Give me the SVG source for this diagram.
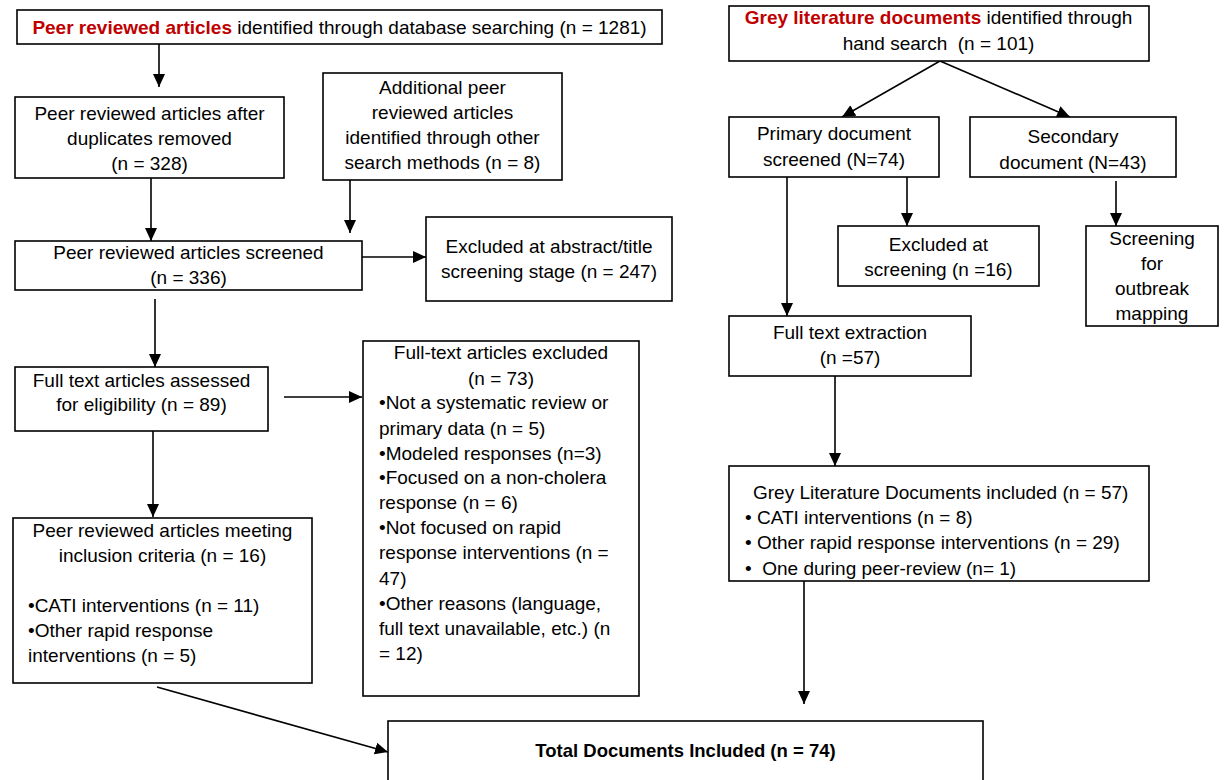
<svg xmlns="http://www.w3.org/2000/svg" width="1230" height="780" viewBox="0 0 1230 780">
<style>
.b{fill:#fff;stroke:#000;stroke-width:1.6}
.t{font-family:"Liberation Sans",Arial,sans-serif;font-size:19px;fill:#000}
.m{text-anchor:middle}
.r{fill:#c00000;font-weight:bold}
.bold{font-weight:bold;font-size:18.5px}
.c{stroke:#000;stroke-width:1.6;fill:none;marker-end:url(#ah)}
</style>
<defs>
<marker id="ah" markerWidth="13" markerHeight="13" refX="13" refY="6.5" orient="auto" markerUnits="userSpaceOnUse"><path d="M0,0.5 L13,6.5 L0,12.5 z" fill="#000"/></marker>
</defs>
<rect width="1230" height="780" fill="#fff"/>
<g id="connectors">
<line class="c" x1="159" y1="44" x2="159" y2="87"/>
<line class="c" x1="151" y1="178" x2="151" y2="241"/>
<line class="c" x1="350" y1="180" x2="350" y2="233"/>
<line class="c" x1="362" y1="257" x2="426" y2="257"/>
<line class="c" x1="155" y1="299" x2="155" y2="367"/>
<line class="c" x1="284" y1="397" x2="362" y2="397"/>
<line class="c" x1="153" y1="431" x2="153" y2="517"/>
<line class="c" x1="157" y1="687" x2="388" y2="752"/>
<line class="c" x1="940" y1="61" x2="842" y2="117"/>
<line class="c" x1="940" y1="61" x2="1070" y2="117"/>
<line class="c" x1="787" y1="177" x2="787" y2="316"/>
<line class="c" x1="907" y1="177" x2="907" y2="226"/>
<line class="c" x1="1116" y1="181" x2="1116" y2="226"/>
<line class="c" x1="835" y1="376" x2="835" y2="466"/>
<line class="c" x1="804" y1="581" x2="804" y2="704"/>
</g>
<g id="n1">
<rect class="b" x="17" y="10" width="645" height="34"/>
<text class="t m" x="339.5" y="34"><tspan class="r">Peer reviewed articles</tspan> identified through database searching (n = 1281)</text>
</g>
<g id="n2">
<rect class="b" x="15" y="97" width="269" height="81"/>
<text class="t m" x="149.5" y="120">Peer reviewed articles after</text>
<text class="t m" x="149.5" y="145">duplicates removed</text>
<text class="t m" x="149.5" y="170">(n = 328)</text>
</g>
<g id="n3">
<rect class="b" x="323" y="73" width="239" height="107"/>
<text class="t m" x="442.5" y="94">Additional peer</text>
<text class="t m" x="442.5" y="119">reviewed articles</text>
<text class="t m" x="442.5" y="144">identified through other</text>
<text class="t m" x="442.5" y="169">search methods (n = 8)</text>
</g>
<g id="n4">
<rect class="b" x="15" y="241" width="347" height="49"/>
<text class="t m" x="188.5" y="259">Peer reviewed articles screened</text>
<text class="t m" x="188.5" y="284">(n = 336)</text>
</g>
<g id="n5">
<rect class="b" x="426" y="217" width="246" height="84"/>
<text class="t m" x="549" y="253">Excluded at abstract/title</text>
<text class="t m" x="549" y="278">screening stage (n = 247)</text>
</g>
<g id="n6">
<rect class="b" x="15" y="367" width="253" height="64"/>
<text class="t m" x="141.5" y="387">Full text articles assessed</text>
<text class="t m" x="141.5" y="411">for eligibility (n = 89)</text>
</g>
<g id="n7">
<rect class="b" x="363" y="341" width="276" height="355"/>
<text class="t m" x="501" y="359">Full-text articles excluded</text>
<text class="t m" x="501" y="385">(n = 73)</text>
<text class="t" x="379" y="409">•Not a systematic review or</text>
<text class="t" x="379" y="435">primary data (n = 5)</text>
<text class="t" x="379" y="460">•Modeled responses (n=3)</text>
<text class="t" x="379" y="484">•Focused on a non-cholera</text>
<text class="t" x="379" y="509">response (n = 6)</text>
<text class="t" x="379" y="534">•Not focused on rapid</text>
<text class="t" x="379" y="559">response interventions (n =</text>
<text class="t" x="379" y="585">47)</text>
<text class="t" x="379" y="610">•Other reasons (language,</text>
<text class="t" x="379" y="635">full text unavailable, etc.) (n</text>
<text class="t" x="379" y="660">= 12)</text>
</g>
<g id="n8">
<rect class="b" x="13" y="518" width="299" height="165"/>
<text class="t m" x="162.5" y="537">Peer reviewed articles meeting</text>
<text class="t m" x="162.5" y="562">inclusion criteria (n = 16)</text>
<text class="t" x="28" y="612">•CATI interventions (n = 11)</text>
<text class="t" x="28" y="637">•Other rapid response</text>
<text class="t" x="28" y="662">interventions (n = 5)</text>
</g>
<g id="n9">
<rect class="b" x="388" y="721" width="595" height="80"/>
<text class="t m bold" x="685.5" y="757">Total Documents Included (n = 74)</text>
</g>
<g id="n10">
<rect class="b" x="729" y="6" width="420" height="55"/>
<text class="t m" x="938.5" y="24"><tspan class="r">Grey literature documents</tspan> identified through</text>
<text class="t m" x="938.5" y="50" xml:space="preserve">hand search  (n = 101)</text>
</g>
<g id="n11">
<rect class="b" x="729" y="117" width="210" height="60"/>
<text class="t m" x="834" y="140">Primary document</text>
<text class="t m" x="834" y="166">screened (N=74)</text>
</g>
<g id="n12">
<rect class="b" x="970" y="117" width="206" height="60"/>
<text class="t m" x="1073" y="143">Secondary</text>
<text class="t m" x="1073" y="169">document (N=43)</text>
</g>
<g id="n13">
<rect class="b" x="838" y="226" width="201" height="60"/>
<text class="t m" x="938.5" y="251">Excluded at</text>
<text class="t m" x="938.5" y="276">screening (n =16)</text>
</g>
<g id="n14">
<rect class="b" x="1086" y="226" width="132" height="100"/>
<text class="t m" x="1152" y="245">Screening</text>
<text class="t m" x="1152" y="270">for</text>
<text class="t m" x="1152" y="295">outbreak</text>
<text class="t m" x="1152" y="320">mapping</text>
</g>
<g id="n15">
<rect class="b" x="729" y="316" width="242" height="60"/>
<text class="t m" x="850" y="339">Full text extraction</text>
<text class="t m" x="850" y="364">(n =57)</text>
</g>
<g id="n16">
<rect class="b" x="729" y="466" width="420" height="115"/>
<text class="t" x="753" y="499">Grey Literature Documents included (n = 57)</text>
<text class="t" x="745" y="524">• CATI interventions (n = 8)</text>
<text class="t" x="745" y="549">• Other rapid response interventions (n = 29)</text>
<text class="t" x="745" y="575" xml:space="preserve">•  One during peer-review (n= 1)</text>
</g>
</svg>
